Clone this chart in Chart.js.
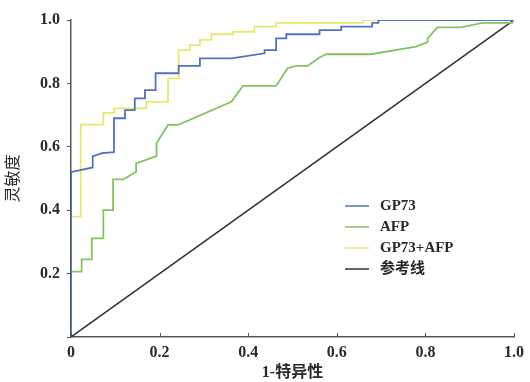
<!DOCTYPE html>
<html>
<head>
<meta charset="utf-8">
<script src="https://cdn.jsdelivr.net/npm/chart.js@4/dist/chart.umd.min.js"></script>
<style>
  html, body { margin: 0; padding: 0; background: #fff; }
  #wrap { width: 530px; height: 382px; }
</style>
</head>
<body>
<div id="wrap"><canvas id="roc"></canvas></div>
<script>
// ROC curves, [1-特异性, 灵敏度]
const gp73 = [
  [0, 0], [0, 0.52], [0.049, 0.535], [0.049, 0.57], [0.07, 0.58], [0.097, 0.583],
  [0.097, 0.69], [0.122, 0.69], [0.122, 0.716], [0.144, 0.716], [0.144, 0.753],
  [0.167, 0.753], [0.167, 0.779], [0.191, 0.779], [0.191, 0.832], [0.243, 0.832],
  [0.243, 0.855], [0.291, 0.855], [0.291, 0.879], [0.362, 0.879], [0.437, 0.895],
  [0.437, 0.905], [0.463, 0.905], [0.463, 0.942], [0.486, 0.942], [0.486, 0.955],
  [0.561, 0.955], [0.561, 0.968], [0.61, 0.968], [0.61, 0.979], [0.68, 0.979],
  [0.68, 0.991], [0.694, 0.991], [0.694, 1], [1, 1]
];
const afp = [
  [0, 0], [0, 0.206], [0.024, 0.206], [0.024, 0.245], [0.047, 0.245], [0.047, 0.311],
  [0.073, 0.311], [0.073, 0.4], [0.095, 0.4], [0.095, 0.497], [0.118, 0.497],
  [0.147, 0.521], [0.147, 0.548], [0.193, 0.571], [0.193, 0.611], [0.219, 0.669],
  [0.242, 0.669], [0.362, 0.742], [0.388, 0.792], [0.463, 0.792], [0.489, 0.848],
  [0.508, 0.855], [0.534, 0.855], [0.561, 0.882], [0.576, 0.892], [0.677, 0.892],
  [0.779, 0.916], [0.805, 0.93], [0.805, 0.942], [0.827, 0.977], [0.88, 0.977],
  [0.929, 0.991], [0.996, 0.991], [1, 1]
];
const gp73Afp = [
  [0, 0], [0, 0.38], [0.022, 0.38], [0.022, 0.67], [0.073, 0.67], [0.073, 0.707],
  [0.097, 0.707], [0.097, 0.721], [0.17, 0.721], [0.17, 0.742], [0.219, 0.742],
  [0.219, 0.816], [0.243, 0.816], [0.243, 0.905], [0.268, 0.905], [0.268, 0.921],
  [0.291, 0.921], [0.291, 0.937], [0.317, 0.937], [0.317, 0.955], [0.366, 0.955],
  [0.366, 0.963], [0.414, 0.963], [0.414, 0.979], [0.463, 0.979], [0.463, 0.991],
  [0.658, 0.991], [0.658, 1], [1, 1]
];
const refLine = [[0, 0], [1, 1]];
const labels = ['GP73', 'AFP', 'GP73+AFP', '参考线'];
const colors = ['#5272bf', '#86c163', '#e5e96e', '#333333'];
const ticks = [0, 0.2, 0.4, 0.6, 0.8, 1.0];

const FONT = '"Liberation Serif", "Noto Sans CJK SC", serif';
const toXY = arr => arr.map(p => ({ x: p[0], y: p[1] }));

// legend inside the plot + inward x ticks
const extras = {
  id: 'extras',
  afterDraw(chart) {
    const ctx = chart.ctx;
    const xs = chart.scales.x;
    const area = chart.chartArea;
    ctx.save();
    ctx.strokeStyle = '#555';
    ctx.lineWidth = 1;
    ticks.forEach(t => {
      const px = Math.round(xs.getPixelForValue(t)) + 0.5;
      ctx.beginPath();
      ctx.moveTo(px, area.bottom);
      ctx.lineTo(px, area.bottom - 4);
      ctx.stroke();
    });
    ctx.font = 'bold 15px ' + FONT;
    ctx.textBaseline = 'middle';
    chart.data.datasets.forEach((ds, i) => {
      const y = 206 + i * 21;
      ctx.strokeStyle = ds.borderColor;
      ctx.lineWidth = 1.5;
      ctx.beginPath();
      ctx.moveTo(345, y);
      ctx.lineTo(369, y);
      ctx.stroke();
      ctx.fillStyle = '#2a2a2a';
      ctx.fillText(ds.label, 380, y);
    });
    ctx.restore();
  }
};

new Chart(document.getElementById('roc'), {
  type: 'scatter',
  data: {
    datasets: [gp73, afp, gp73Afp, refLine].map((d, i) => ({
      label: labels[i],
      data: toXY(d),
      showLine: true,
      borderColor: colors[i],
      backgroundColor: colors[i],
      borderWidth: i === 3 ? 1.5 : 1.8,
      pointRadius: 0,
      tension: 0
    }))
  },
  options: {
    responsive: true,
    maintainAspectRatio: false,
    animation: false,
    layout: { padding: { top: 20, right: 15, left: 0, bottom: 0 } },
    plugins: { legend: { display: false }, tooltip: { enabled: false } },
    scales: {
      x: {
        type: 'linear', min: 0, max: 1,
        afterFit: s => { s.height = 45; },
        afterBuildTicks: s => { s.ticks = ticks.map(v => ({ value: v })); },
        grid: { display: false, drawTicks: false },
        border: { display: true, color: '#555', width: 1.5 },
        ticks: {
          padding: 6, color: '#2a2a2a', font: { family: FONT, size: 16, weight: 'bold' },
          callback: v => v === 0 ? '0' : v.toFixed(1)
        },
        title: {
          display: true, text: '1-特异性', color: '#2a2a2a',
          font: { family: FONT, size: 16, weight: 'bold' }, padding: { top: 0, bottom: 0 }
        }
      },
      y: {
        type: 'linear', min: 0, max: 1,
        afterFit: s => { s.width = 71; },
        afterBuildTicks: s => { s.ticks = ticks.map(v => ({ value: v })); },
        grid: { display: true, drawOnChartArea: false, drawTicks: true, tickLength: 4, color: '#555' },
        border: { display: true, color: '#555', width: 1.5 },
        ticks: {
          padding: 7, color: '#2a2a2a', font: { family: FONT, size: 16, weight: 'bold' },
          callback: v => v === 0 ? '' : v.toFixed(1)
        },
        title: {
          display: true, text: '灵敏度', color: '#2a2a2a',
          font: { family: FONT, size: 16 }, padding: { top: 4, bottom: 0 }
        }
      }
    }
  },
  plugins: [extras]
});
</script>
</body>
</html>
